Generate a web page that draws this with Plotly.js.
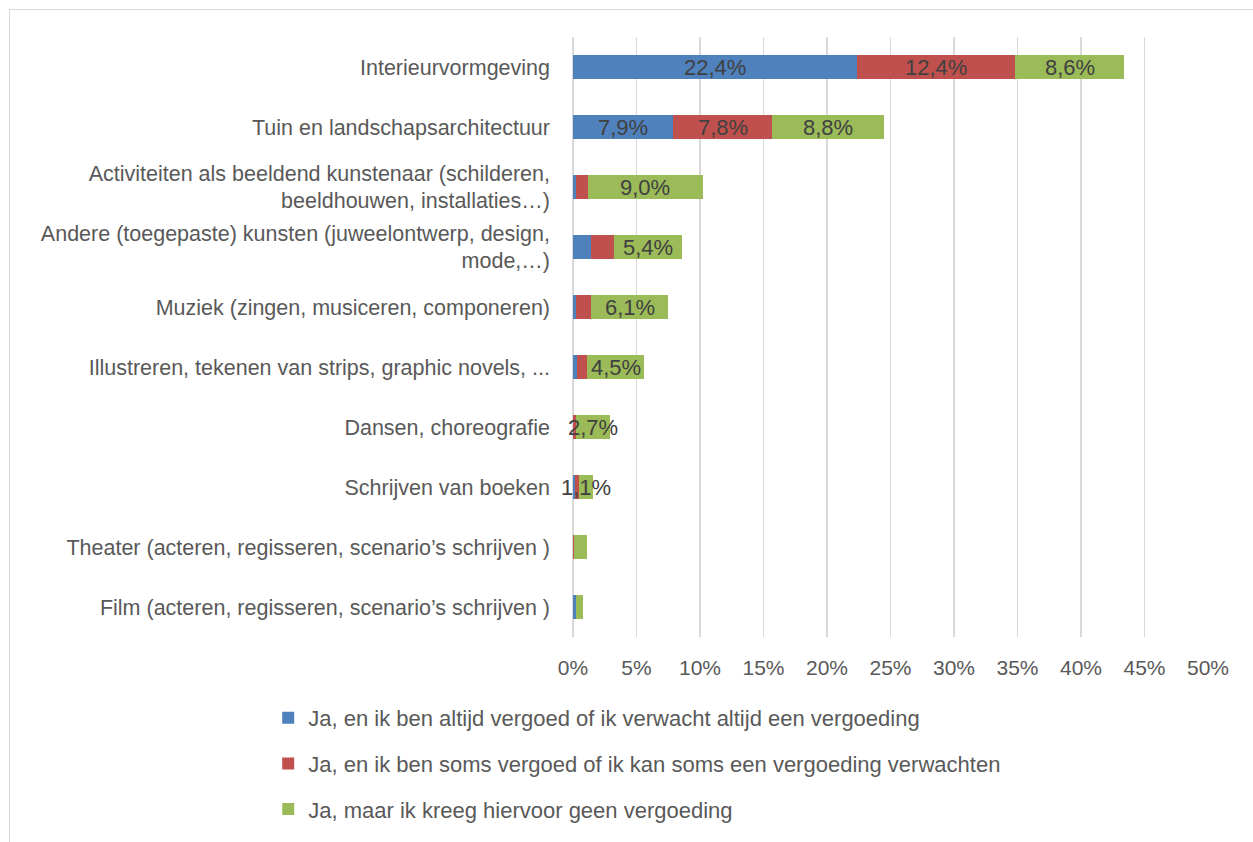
<!DOCTYPE html>
<html>
<head>
<meta charset="utf-8">
<script src="https://cdn.plot.ly/plotly-3.0.1.min.js"></script>
<style>
  html, body { margin: 0; padding: 0; background: #fff; }
  #wrap { position: relative; width: 1253px; height: 842px; overflow: hidden; }
  #frame { position: absolute; left: 9px; top: 9px; width: 1300px; height: 900px; border: 1px solid #d9d9d9; pointer-events: none; }
  #chart { position: absolute; left: 0; top: 0; width: 1253px; height: 842px; }
</style>
</head>
<body>
<div id="wrap">
  <div id="frame"></div>
  <div id="chart"></div>
</div>
<script>
const categories = [
  "Interieurvormgeving",
  "Tuin en landschapsarchitectuur",
  "Activiteiten als beeldend kunstenaar (schilderen,<br>beeldhouwen, installaties…)",
  "Andere (toegepaste) kunsten (juweelontwerp, design,<br>mode,…)",
  "Muziek (zingen, musiceren, componeren)",
  "Illustreren, tekenen van strips, graphic novels, ...",
  "Dansen, choreografie",
  "Schrijven van boeken",
  "Theater (acteren, regisseren, scenario’s schrijven )",
  "Film (acteren, regisseren, scenario’s schrijven )"
];
const seriesNames = [
  "Ja, en ik ben altijd vergoed of ik verwacht altijd een vergoeding",
  "Ja, en ik ben soms vergoed of ik kan soms een vergoeding verwachten",
  "Ja, maar ik kreeg hiervoor geen vergoeding"
];
const altijd = [22.4, 7.9, 0.2, 1.4, 0.2, 0.3, 0.0, 0.15, 0.0, 0.2];
const soms   = [12.4, 7.8, 1.0, 1.8, 1.2, 0.8, 0.2, 0.35, 0.1, 0.05];
const geen   = [8.6, 8.8, 9.0, 5.4, 6.1, 4.5, 2.7, 1.1, 1.0, 0.5];
const altijdLabels = ["22,4%", "7,9%", null, null, null, null, null, null, null, null];
const somsLabels   = ["12,4%", "7,8%", null, null, null, null, null, null, null, null];
const geenLabels   = ["8,6%", "8,8%", "9,0%", "5,4%", "6,1%", "4,5%", "2,7%", "1,1%", null, null];
const xTickVals = [0, 5, 10, 15, 20, 25, 30, 35, 40, 45, 50];
const xTickText = ["0%", "5%", "10%", "15%", "20%", "25%", "30%", "35%", "40%", "45%", "50%"];

const colors = ["#4f81bd", "#c0504d", "#9bbb59"];
const values = [altijd, soms, geen];
const labels = [altijdLabels, somsLabels, geenLabels];
const FONT = "Liberation Sans, Arial, sans-serif";
const FS = 22;

const traces = values.map((v, i) => ({
  type: "bar",
  orientation: "h",
  y: categories,
  x: v,
  name: seriesNames[i],
  legendgroup: "g" + i,
  marker: { color: colors[i], line: { width: 0 } },
  hoverinfo: "x+name"
}));

const annotations = [];
categories.forEach((c, ci) => {
  let cum = 0;
  values.forEach((v, si) => {
    const mid = cum + v[ci] / 2;
    cum += v[ci];
    const t = labels[si][ci];
    if (t) {
      annotations.push({
        x: mid, y: c, xref: "x", yref: "y", text: t, showarrow: false,
        font: { family: FONT, size: FS, color: "#404040" },
        xanchor: "center", yanchor: "middle"
      });
    }
  });
});

const layout = {
  width: 1253, height: 842,
  paper_bgcolor: "rgba(0,0,0,0)",
  plot_bgcolor: "rgba(0,0,0,0)",
  barmode: "stack",
  bargap: 0.6,
  margin: { l: 573, r: 45, t: 37, b: 205, pad: 0 },
  font: { family: FONT, size: FS, color: "#595959" },
  xaxis: {
    range: [0, 50],
    tickvals: xTickVals, ticktext: xTickText,
    showgrid: true, gridcolor: "#d9d9d9", gridwidth: 1.5,
    zeroline: true, zerolinecolor: "#d9d9d9", zerolinewidth: 1.5,
    showline: false, ticks: "", ticklabelstandoff: 16,
    tickfont: { family: FONT, size: 21, color: "#595959" },
    fixedrange: true, automargin: false
  },
  yaxis: {
    type: "category",
    autorange: "reversed",
    showgrid: false, zeroline: false, showline: false, ticks: "",
    ticklabelstandoff: 22,
    tickfont: { family: FONT, size: 21.5, color: "#595959" },
    fixedrange: true, automargin: false
  },
  showlegend: true,
  legend: {
    orientation: "v",
    x: -0.48, xanchor: "left",
    y: -0.1, yanchor: "top",
    traceorder: "grouped",
    tracegroupgap: 14,
    itemwidth: 30,
    font: { family: FONT, size: FS, color: "#595959" },
    bgcolor: "rgba(0,0,0,0)"
  },
  annotations: annotations
};

Plotly.newPlot("chart", traces, layout, { displayModeBar: false, staticPlot: true });
</script>
</body>
</html>
